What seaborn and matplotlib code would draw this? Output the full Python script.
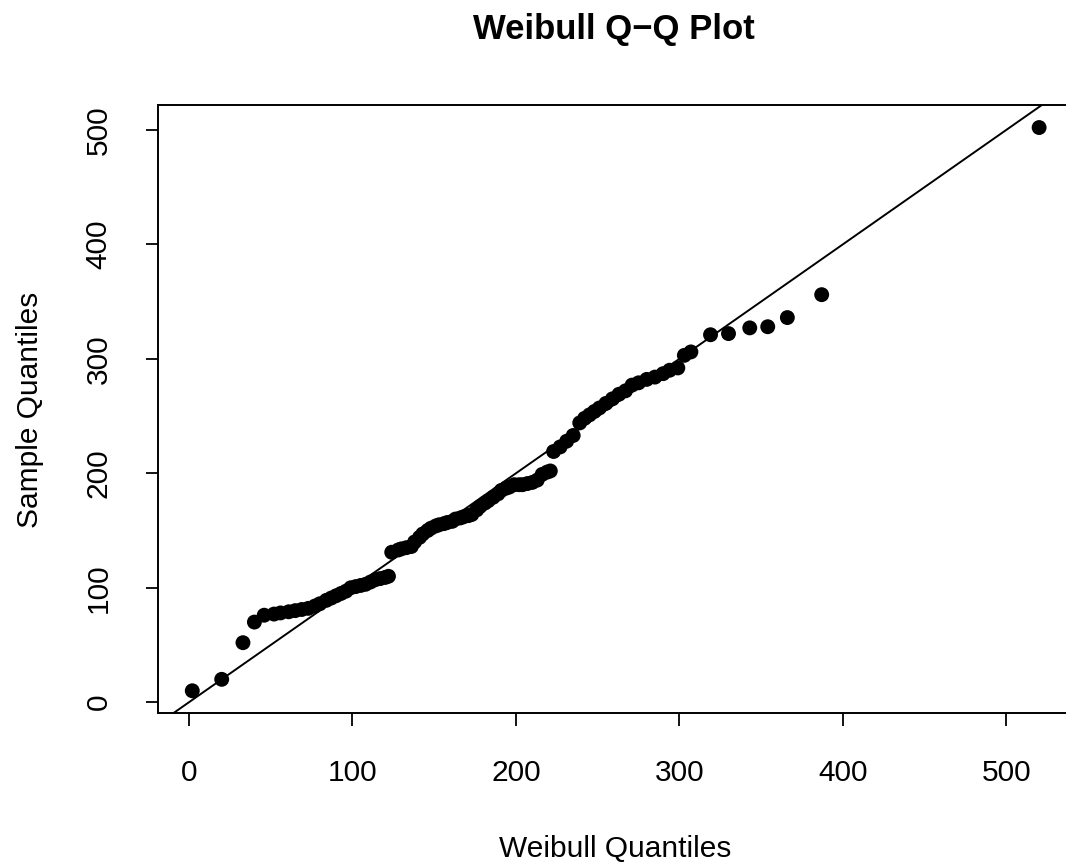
import matplotlib
matplotlib.use("Agg")
import matplotlib.pyplot as plt
import seaborn as sns
import pandas as pd

# Data (Weibull theoretical quantiles vs sample quantiles)
weibull_quantiles = [2, 20, 33, 40, 46, 52, 56, 61, 65, 69,
                     73, 77, 80, 84, 87, 90, 93, 96, 99, 102,
                     105, 108, 111, 114, 117, 120, 122, 124, 128, 130,
                     133, 136, 138, 141, 143, 146, 148, 151, 153, 156,
                     158, 161, 163, 166, 168, 171, 173, 176, 178, 181,
                     183, 186, 189, 191, 194, 196, 199, 202, 204, 207,
                     210, 213, 216, 219, 221, 223, 227, 231, 235, 239,
                     242, 245, 248, 251, 255, 259, 263, 267, 271, 275,
                     280, 285, 290, 294, 299, 303, 307, 319, 330, 343,
                     354, 366, 387, 520]
sample_quantiles = [10, 20, 52, 70, 76, 77, 78, 79, 80, 81,
                    82, 84, 86, 89, 91, 93, 95, 97, 100, 101,
                    102, 103, 105, 107, 108, 109, 110, 131, 133, 134,
                    135, 136, 140, 144, 147, 150, 152, 154, 155, 156,
                    157, 158, 160, 161, 162, 163, 164, 168, 171, 174,
                    176, 179, 182, 185, 187, 188, 190, 190, 190, 191,
                    192, 194, 199, 201, 202, 219, 223, 228, 233, 244,
                    248, 251, 254, 257, 261, 265, 269, 272, 277, 279,
                    282, 284, 287, 290, 292, 303, 306, 321, 322, 327,
                    328, 336, 356, 502]
x_ticks = [0, 100, 200, 300, 400, 500]
y_ticks = [0, 100, 200, 300, 400, 500]

df = pd.DataFrame({"x": weibull_quantiles, "y": sample_quantiles})

sns.set_theme(style="white")
plt.rcParams["font.family"] = ["Liberation Sans", "DejaVu Sans"]

W, H = 1066, 865
fig = plt.figure(figsize=(W / 100, H / 100), dpi=100)
left_px, right_px, top_px, bottom_px = 158.4, 1073.0, 105.0, 713.3
ax = fig.add_axes([left_px / W, (H - bottom_px) / H,
                   (right_px - left_px) / W, (bottom_px - top_px) / H])

sns.scatterplot(data=df, x="x", y="y", ax=ax, color="black", s=115,
                edgecolor="none", linewidth=0, zorder=3)
ax.axline((0, 0), slope=1, color="black", lw=1.4, zorder=2)

xmin, xmax = min(weibull_quantiles), max(weibull_quantiles)
ymin, ymax = min(sample_quantiles), max(sample_quantiles)
ax.set_xlim(xmin - 0.04 * (xmax - xmin), xmax + 0.04 * (xmax - xmin))
ax.set_ylim(ymin - 0.04 * (ymax - ymin), ymax + 0.04 * (ymax - ymin))

ax.set_xticks(x_ticks)
ax.set_yticks(y_ticks)
ax.set_xticklabels([str(t) for t in x_ticks])
ax.set_yticklabels([str(t) for t in y_ticks], rotation=90, va="center")
ax.tick_params(axis="both", which="both", direction="out", length=9,
               width=1.3, color="black", labelsize=21.5, labelcolor="black",
               pad=24, bottom=True, left=True)
for side in ["left", "bottom", "top"]:
    ax.spines[side].set_visible(True)
    ax.spines[side].set_color("black")
    ax.spines[side].set_linewidth(1.4)
ax.spines["right"].set_visible(False)

ax.set_xlabel("Weibull Quantiles", fontsize=21.5, color="black", va="center")
ax.set_ylabel("Sample Quantiles", fontsize=21.5, color="black", va="center")
ax.xaxis.set_label_coords(615 / W, 1 - 849 / H, transform=fig.transFigure)
ax.yaxis.set_label_coords(30 / W, 1 - 410 / H, transform=fig.transFigure)

fig.text(614 / W, 1 - 30 / H, "Weibull Q\u2212Q Plot", ha="center", va="center",
         fontsize=25, fontweight="bold", color="black")

fig.savefig("out.png", dpi=100, facecolor="white")
